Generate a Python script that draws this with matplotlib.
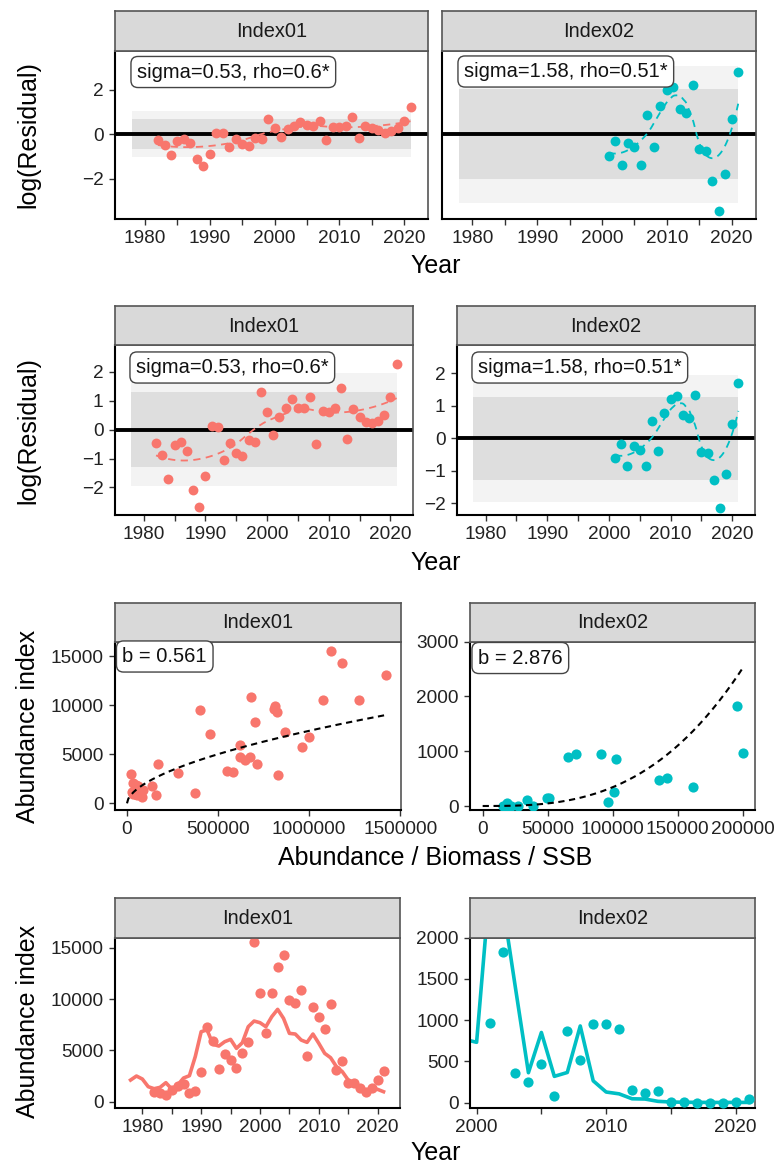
import numpy as np
import matplotlib
matplotlib.use("Agg")
import matplotlib.pyplot as plt

plt.rcParams['font.family'] = ['Liberation Sans', 'DejaVu Sans']

# ---- data ----
col01 = '#F8766D'
col02 = '#00BFC4'

years01 = list(range(1982, 2022))
years02 = list(range(2001, 2022))

# log residuals
resid01 = [-0.26, -0.48, -0.95, -0.29, -0.23, -0.41, -1.11, -1.44, -0.87, 0.05,
           0.05, -0.56, -0.23, -0.45, -0.51, -0.18, -0.22, 0.69, 0.30, -0.12,
           0.26, 0.38, 0.57, 0.42, 0.38, 0.60, -0.26, 0.35, 0.32, 0.38,
           0.77, -0.18, 0.38, 0.27, 0.20, 0.08, 0.17, 0.27, 0.62, 1.22]
resid02 = [-0.98, -0.29, -1.37, -0.38, -0.59, -1.37, 0.86, -0.59, 1.28, 2.00,
           2.12, 1.16, 0.98, 2.21, -0.66, -0.74, -2.09, -3.45, -1.77, 0.71, 2.81]

# standardised residuals
std01 = [-0.48, -0.88, -1.72, -0.55, -0.43, -0.74, -2.08, -2.69, -1.59, 0.13,
         0.09, -1.06, -0.45, -0.80, -0.90, -0.35, -0.43, 1.28, 0.59, -0.19,
         0.44, 0.73, 1.06, 0.76, 0.73, 1.12, -0.49, 0.65, 0.59, 0.74,
         1.43, -0.34, 0.71, 0.45, 0.27, 0.22, 0.30, 0.50, 1.12, 2.27]
std02 = [-0.62, -0.18, -0.85, -0.23, -0.36, -0.85, 0.53, -0.38, 0.78, 1.21,
         1.32, 0.71, 0.62, 1.34, -0.43, -0.46, -1.30, -2.14, -1.10, 0.44, 1.72]

sigma01, rho01 = 0.53, '0.6*'
sigma02, rho02 = 1.58, '0.51*'
z_inner, z_outer = 1.28, 1.96
band_years = (1978, 2021)

# observed index
obs01 = [974, 877, 649, 1136, 1558, 1721, 877, 1039, 2857, 7240,
         5909, 3149, 4675, 4026, 3312, 4708, 5779, 15552, 10552, 6721,
         10552, 13084, 14253, 9903, 9578, 10877, 4448, 9253, 8279, 7045,
         9513, 3084, 3961, 1851, 1786, 1364, 974, 1299, 2110, 3019]
obs02 = [967, 1821, 354, 248, 472, 81, 866, 516, 955, 955,
         894, 150, 118, 142, 4, 2.4, 0.5, 0.1, 0.5, 6, 49]

# stock size behind each observation
biomass01 = [45000, 55000, 80000, 25500, 67000, 140000, 159000, 376000, 828000, 870000,
             619000, 582000, 673000, 713000, 549000, 619000, 962000, 1120000, 1075000, 998000,
             1276000, 1422000, 1179000, 814000, 810000, 683000, 646000, 822000, 701000, 458000,
             403000, 281000, 171000, 49000, 62000, 89000, 32000, 41000, 34700, 22000]
biomass02 = [200000, 195900, 162000, 101300, 135900, 96700, 102300, 141500, 91000, 71500,
             65900, 51000, 34400, 49200, 39000, 27400, 22000, 18500, 16000, 20000, 18500]

# fitted power curve I = q * B^b
b01, q01 = 0.561, 3.18
b02, q02 = 2.876, 1.43e-12

# predicted index
pred_years01 = list(range(1978, 2022))
pred01 = [2110, 2500, 2208, 1461, 1266, 1396, 1851, 1234, 1623, 2305,
          2532, 4400, 6818, 7000, 5600, 5420, 5844, 6071, 5195, 5747,
          7305, 7857, 7695, 7305, 8279, 8994, 8117, 6656, 6591, 6006,
          5779, 6591, 5682, 4708, 4286, 3409, 2922, 2110, 1721, 1461,
          1071, 1234, 1201, 974]
pred_years02 = list(range(1999, 2022))
pred02 = [770, 732, 2600, 2430, 1390, 363, 851, 319, 366, 930,
          265, 129, 107, 47, 44, 16, 8, 5, 4, 3, 3, 3, 3]

# ---- layout helpers (pixel boxes) ----
W, H = 776, 1167
fig = plt.figure(figsize=(W / 100, H / 100), dpi=100)
TICK = 13.7
TITLE = 18


def rect(l, t, r, b):
    return [l / W, 1 - b / H, (r - l) / W, (b - t) / H]


def panel(l, t, r, b, strip_top, name):
    ax = fig.add_axes(rect(l, t, r, b))
    st = fig.add_axes(rect(l, strip_top, r, t))
    st.set_facecolor('#D9D9D9')
    st.set_xticks([])
    st.set_yticks([])
    for s in st.spines.values():
        s.set_color('#555555')
        s.set_linewidth(1.2)
    st.text(0.5, 0.48, name, ha='center', va='center', fontsize=14.4,
            color='#1a1a1a', transform=st.transAxes)
    for side in ['top', 'right']:
        ax.spines[side].set_color('#555555')
        ax.spines[side].set_linewidth(1.2)
    for side in ['left', 'bottom']:
        ax.spines[side].set_color('black')
        ax.spines[side].set_linewidth(1.5)
    ax.tick_params(labelsize=TICK, length=4, width=1, color='#333333',
                   labelcolor='#222222', pad=4)
    return ax


def year_ticks(ax, lo, hi, labelled):
    ticks = list(range(lo, hi + 1, 5))
    ax.set_xticks(ticks)
    ax.set_xticklabels([str(t) if t in labelled else '' for t in ticks])


def loess(x, y, span, grid):
    x = np.asarray(x, float)
    y = np.asarray(y, float)
    k = int(np.ceil(span * len(x)))
    out = []
    for g in grid:
        d = np.abs(x - g)
        h = np.sort(d)[k - 1]
        w = np.clip(1 - (d / h) ** 3, 0, 1) ** 3
        c = np.polyfit(x, y, 2, w=np.sqrt(w))
        out.append(np.polyval(c, g))
    return np.array(out)


def label(x, y, txt):
    fig.text(x / W, 1 - y / H, txt, fontsize=14.5, ha='left', va='center',
             color='#111111',
             bbox=dict(boxstyle='round,pad=0.3,rounding_size=0.35',
                       fc='white', ec='#444444', lw=1))


def resid_panel(ax, yrs, vals, sd, color, ylim, span):
    ax.fill_between(band_years, -z_outer * sd, z_outer * sd, color='#F3F3F3', lw=0)
    ax.fill_between(band_years, -z_inner * sd, z_inner * sd, color='#DEDEDE', lw=0)
    ax.axhline(0, color='black', lw=2.8, zorder=2)
    grid = np.linspace(min(yrs), max(yrs), 120)
    ax.plot(grid, loess(yrs, vals, span, grid), color=color, lw=1.3,
            dashes=(4, 3), zorder=3)
    ax.scatter(yrs, vals, s=50, color=color, lw=0, zorder=4)
    ax.set_xlim(1975.3, 2023.7)
    ax.set_ylim(*ylim)
    year_ticks(ax, 1980, 2020, [1980, 1990, 2000, 2010, 2020])


# ---- row 1: log residuals (shared y) ----
a1 = panel(114.7, 50.7, 428, 219, 10.5, 'Index01')
resid_panel(a1, years01, resid01, sigma01, col01, (-3.82, 3.77), 0.75)
a1.set_yticks([-2, 0, 2])
a2 = panel(442, 50.7, 755.7, 219, 10.5, 'Index02')
resid_panel(a2, years02, resid02, sigma02, col02, (-3.82, 3.77), 0.68)
a2.set_yticks([])
label(137, 72, f'sigma={sigma01}, rho={rho01}')
label(464, 71.5, f'sigma={sigma02}, rho={rho02}')
fig.text(28 / W, 1 - 134.5 / H, 'log(Residual)', rotation=90, ha='center',
         va='center', fontsize=TITLE)
fig.text(436 / W, 1 - 273 / H, 'Year', ha='center', va='baseline', fontsize=TITLE)

# ---- row 2: standardised residuals (free y) ----
b1 = panel(114.7, 345, 413.3, 515, 306, 'Index01')
resid_panel(b1, years01, std01, 1.0, col01, (-2.95, 2.92), 0.75)
b1.set_yticks([-2, -1, 0, 1, 2])
b2 = panel(456.7, 345, 755, 515, 306, 'Index02')
resid_panel(b2, years02, std02, 1.0, col02, (-2.37, 2.88), 0.68)
b2.set_yticks([-2, -1, 0, 1, 2])
label(136, 367.5, f'sigma={sigma01}, rho={rho01}')
label(478, 367.5, f'sigma={sigma02}, rho={rho02}')
fig.text(28 / W, 1 - 431 / H, 'log(Residual)', rotation=90, ha='center',
         va='center', fontsize=TITLE)
fig.text(436 / W, 1 - 570 / H, 'Year', ha='center', va='baseline', fontsize=TITLE)

# ---- row 3: index vs stock size ----
c1 = panel(114.7, 641.7, 400.5, 810, 602.5, 'Index01')
c1.scatter(biomass01, obs01, s=54, color=col01, lw=0, zorder=3)
g1 = np.linspace(0, max(biomass01), 200)
c1.plot(g1, q01 * g1 ** b01, color='black', lw=1.5, dashes=(3, 2.2), zorder=4)
c1.set_xlim(-67500, 1502000)
c1.set_ylim(-679, 16463)
c1.set_xticks([0, 500000, 1000000, 1500000])
c1.set_xticklabels(['0', '500000', '1000000', '1500000'])
c1.set_yticks([0, 5000, 10000, 15000])
c1.set_yticklabels(['0', '5000', '10000', '15000'])

c2 = panel(470, 641.7, 755, 810, 602.5, 'Index02')
c2.scatter(biomass02, obs02, s=54, color=col02, lw=0, zorder=3)
g2 = np.linspace(0, max(biomass02), 200)
c2.plot(g2, q02 * g2 ** b02, color='black', lw=1.5, dashes=(3, 2.2), zorder=4)
c2.set_xlim(-9744, 209487)
c2.set_ylim(-73, 3000)
c2.set_xticks([0, 50000, 100000, 150000, 200000])
c2.set_xticklabels(['0', '50000', '100000', '150000', '200000'])
c2.set_yticks([0, 1000, 2000, 3000])
c2.set_yticklabels(['0', '1000', '2000', '3000'])
label(122.5, 656.5, f'b = {b01}')
label(478, 658, f'b = {b02}')
fig.text(28 / W, 1 - 726.7 / H, 'Abundance index', rotation=90, ha='center',
         va='center', fontsize=TITLE)
fig.text(435 / W, 1 - 865 / H, 'Abundance / Biomass / SSB', ha='center',
         va='baseline', fontsize=TITLE)

# ---- row 4: index time series with fit ----
d1 = panel(114.7, 937.7, 400, 1107.7, 898, 'Index01')
d1.plot(pred_years01, pred01, color=col01, lw=2.6, zorder=2)
d1.scatter(years01, obs01, s=54, color=col01, lw=0, zorder=3)
d1.set_xlim(1975.3, 2023.8)
d1.set_ylim(-584, 15974)
year_ticks(d1, 1980, 2020, [1980, 1990, 2000, 2010, 2020])
d1.set_yticks([0, 5000, 10000, 15000])
d1.set_yticklabels(['0', '5000', '10000', '15000'])

d2 = panel(470, 937.7, 755, 1107.7, 898, 'Index02')
d2.plot(pred_years02, pred02, color=col02, lw=2.6, zorder=2)
d2.scatter(years02, obs02, s=54, color=col02, lw=0, zorder=3)
d2.set_xlim(1999.49, 2021.49)
d2.set_ylim(-61, 2000)
year_ticks(d2, 2000, 2020, [2000, 2010, 2020])
d2.set_yticks([0, 500, 1000, 1500, 2000])
d2.set_yticklabels(['0', '500', '1000', '1500', '2000'])
fig.text(28 / W, 1 - 1021 / H, 'Abundance index', rotation=90, ha='center',
         va='center', fontsize=TITLE)
fig.text(436 / W, 1 - 1160 / H, 'Year', ha='center', va='baseline', fontsize=TITLE)

fig.savefig('out.png', dpi=100, facecolor='white')
